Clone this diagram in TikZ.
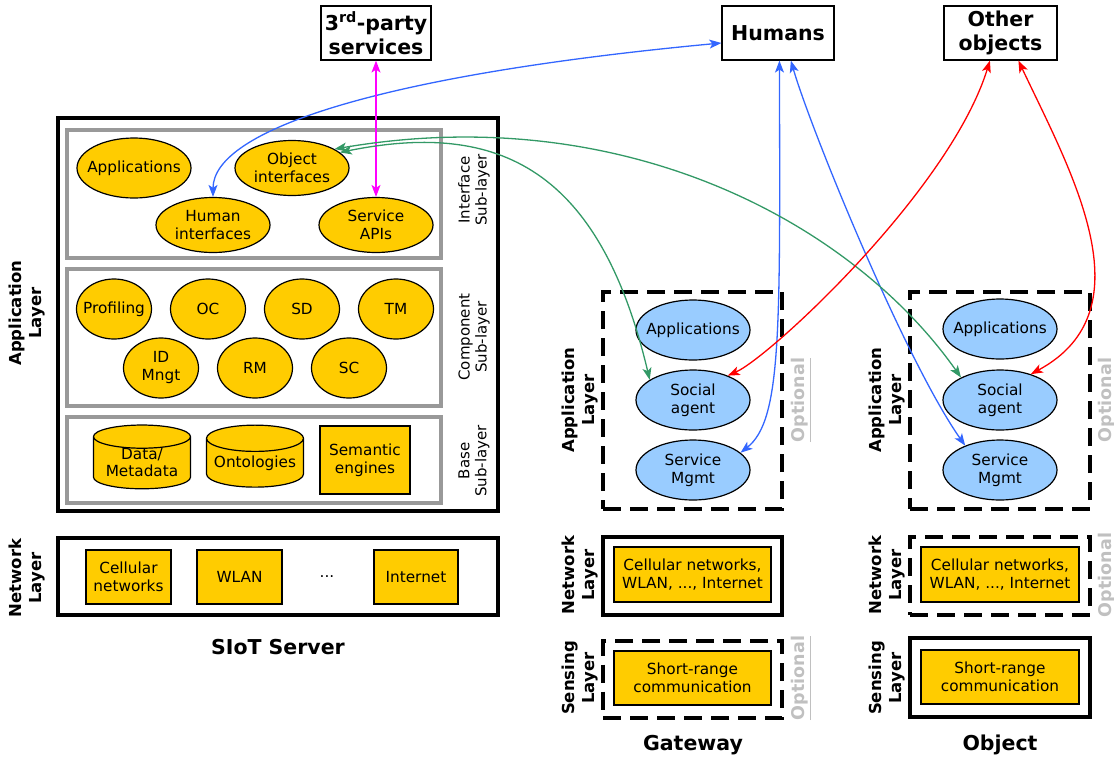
\documentclass[tikz,border=0pt]{standalone}
\usepackage{fontspec}
\setmainfont{DejaVu Sans}
\usetikzlibrary{arrows.meta,shapes.geometric}

\definecolor{siotyellow}{HTML}{FFCC00}
\definecolor{siotblue}{HTML}{99CCFF}
\definecolor{subgray}{HTML}{999999}
\definecolor{optgray}{HTML}{C0C0C0}
\definecolor{linkblue}{HTML}{3366FF}
\definecolor{linkgreen}{HTML}{339966}
\definecolor{linkmagenta}{HTML}{FF00FF}

\begin{document}
\begin{tikzpicture}[x=1pt, y=-1pt,
  yell/.style={ellipse, draw, line width=1.2pt, fill=siotyellow, inner xsep=-20pt, inner ysep=0pt, align=center, font=\fontsize{15.3}{18}\selectfont},
  comp/.style={yell, minimum width=75, minimum height=60},
  intf/.style={yell, minimum width=114, minimum height=55},
  bell/.style={yell, fill=siotblue, minimum width=114, minimum height=60},
  yrect/.style={rectangle, draw, line width=1.2pt, fill=siotyellow, inner sep=0pt, align=center, font=\fontsize{15.3}{18}\selectfont},
  store/.style={cylinder, shape border rotate=90, aspect=0.32, draw, line width=1.2pt, fill=siotyellow, inner sep=0pt, align=center, font=\fontsize{15.3}{17}\selectfont, minimum width=97, minimum height=62},
  sublayer/.style={rectangle, draw=subgray, line width=3.5pt, minimum width=374},
  layerbox/.style={rectangle, draw, line width=4pt, minimum width=179},
  optbox/.style={layerbox, dash pattern=on 18pt off 9pt},
  sublabel/.style={rotate=90, align=center, font=\fontsize{15}{17}\selectfont},
  laylabel/.style={rotate=90, align=center, font=\fontsize{16.5}{20}\selectfont\bfseries},
  optional/.style={rotate=90, text=optgray, font=\fontsize{17.5}{20}\selectfont\bfseries},
  actor/.style={rectangle, draw, line width=1.2pt, fill=white, align=center, minimum height=54, font=\fontsize{20.5}{24}\selectfont\bfseries},
  device/.style={font=\fontsize{20.5}{24}\selectfont\bfseries},
  link/.style={<->, line width=1.3pt},
  >={Stealth[length=12pt, width=9pt, inset=3pt]}
]
  \useasboundingbox (0,0) rectangle (1114,761);

  % Top: external actors
  \node[actor, minimum width=110] (tps) at (376,33) {3\textsuperscript{rd}-party\\services};
  \node[actor, minimum width=112] (humans) at (778,33) {Humans};
  \node[actor, minimum width=113] (others) at (1000.5,33) {Other\\objects};

  % SIoT server: application layer
  \node[layerbox, minimum width=440, minimum height=393] (srvapp) at (278,314.5) {};
  \node[sublayer, minimum height=128] (ifsub) at (254,194) {};
  \node[sublayer, minimum height=137] (compsub) at (254,337.5) {};
  \node[sublayer, minimum height=86] (basesub) at (254,460) {};
  \node[sublabel] (iflab) at (474,190) {Interface\\Sub-layer};
  \node[sublabel] (complab) at (474,337) {Component\\Sub-layer};
  \node[sublabel] (baselab) at (474,461) {Base\\Sub-layer};
  \node[laylabel] (srvapplab) at (27,313) {Application\\Layer};

  % Interface sub-layer
  \node[intf, minimum height=60] (app) at (134,168) {Applications};
  \node[intf] (oif) at (292,168) {Object\\interfaces};
  \node[intf] (hmi) at (213,225) {Human\\interfaces};
  \node[intf] (sapi) at (376,225) {Service\\APIs};

  % Component sub-layer
  \node[comp] (prof) at (114,309) {Profiling};
  \node[comp] (oc) at (208,309) {OC};
  \node[comp] (sd) at (302,309) {SD};
  \node[comp] (tm) at (396,309) {TM};
  \node[comp] (idm) at (161,368) {ID\\Mngt};
  \node[comp] (rm) at (255,368) {RM};
  \node[comp] (sc) at (349,368) {SC};

  % Base sub-layer
  \node[store] (dat) at (142,463) {Data/\\Metadata};
  \node[store] (ont) at (255,463) {Ontologies};
  \node[yrect, minimum width=90, minimum height=68] (sem) at (365,460) {Semantic\\engines};

  % SIoT server: network layer
  \node[layerbox, minimum width=440, minimum height=77] (srvnet) at (278,576.5) {};
  \node[laylabel] (srvnetlab) at (27,578) {Network\\Layer};
  \node[yrect, minimum width=85, minimum height=54] (cell) at (128.5,577) {Cellular\\networks};
  \node[yrect, minimum width=85, minimum height=54] (wlan) at (239.5,577) {WLAN};
  \node[font=\fontsize{15.3}{18}\selectfont] (dots) at (327,577) {...};
  \node[yrect, minimum width=84, minimum height=54] (inet) at (416,577) {Internet};
  \node[device] (srvlab) at (278,647) {SIoT Server};

  % Gateway
  \node[optbox, minimum height=217] (gappbox) at (692.5,400.5) {};
  \node[laylabel] (gapplab) at (580,400) {Application\\Layer};
  \node[optional] (gappopt) at (801,400) {\underline{Optional}};
  \node[bell] (gapp) at (693,330) {Applications};
  \node[bell] (gsoc) at (693,400) {Social\\agent};
  \node[bell] (gsm) at (693,470) {Service\\Mgmt};
  \node[layerbox, minimum height=78] (gnetbox) at (692.5,576) {};
  \node[laylabel] (gnetlab) at (580,575) {Network\\Layer};
  \node[yrect, minimum width=157, minimum height=55] (gnet) at (692.5,574.5) {Cellular networks,\\WLAN, ..., Internet};
  \node[optbox, minimum height=77] (gsensbox) at (692.5,679) {};
  \node[laylabel] (gsenslab) at (580,678) {Sensing\\Layer};
  \node[optional] (gsensopt) at (801,678) {\underline{Optional}};
  \node[yrect, minimum width=157, minimum height=54] (gsens) at (692.5,678) {Short-range\\communication};
  \node[device] (gwlab) at (693,745) {Gateway};

  % Object
  \node[optbox, minimum height=217, minimum width=180] (oappbox) at (1000,400.5) {};
  \node[laylabel] (oapplab) at (887,400) {Application\\Layer};
  \node[optional] (oappopt) at (1108,400) {\underline{Optional}};
  \node[bell] (oapp) at (1000,329) {Applications};
  \node[bell] (osoc) at (1000,400) {Social\\agent};
  \node[bell] (osm) at (1000,470) {Service\\Mgmt};
  \node[optbox, minimum height=78, minimum width=180] (onetbox) at (1000,576) {};
  \node[laylabel] (onetlab) at (887,575) {Network\\Layer};
  \node[optional] (onetopt) at (1108,575) {\underline{Optional}};
  \node[yrect, minimum width=158, minimum height=55] (onet) at (1000,574.5) {Cellular networks,\\WLAN, ..., Internet};
  \node[layerbox, minimum height=79, minimum width=180] (osensbox) at (1000,677) {};
  \node[laylabel] (osenslab) at (887,678) {Sensing\\Layer};
  \node[yrect, minimum width=158, minimum height=54] (osens) at (1000,677) {Short-range\\communication};
  \node[device] (objlab) at (1000,745) {Object};

  % Links to humans
  \draw[link, linkblue] (hmi.north) .. controls (213,130) and (380,75) .. (humans.190);
  \draw[link, linkblue] (humans.273) .. controls (780,330) and (782,420) .. (gsm.20);
  \draw[link, linkblue] (humans.295) .. controls (811,130) and (905,360) .. (osm.145);
  % Link to third-party services
  \draw[link, linkmagenta] (tps) -- (sapi);
  % Object interfaces to social agents
  \draw[link, linkgreen] (oif.18) .. controls (500,120) and (600,170) .. (gsoc.155);
  \draw[link, linkgreen] (oif.24) .. controls (620,100) and (850,220) .. (osoc.150);
  % Links to other objects
  \draw[link, red] (others.249) .. controls (950,190) and (770,357) .. (gsoc.35);
  \draw[link, red] (others.303) .. controls (1070,170) and (1150,310) .. (osoc.40);
\end{tikzpicture}
\end{document}
